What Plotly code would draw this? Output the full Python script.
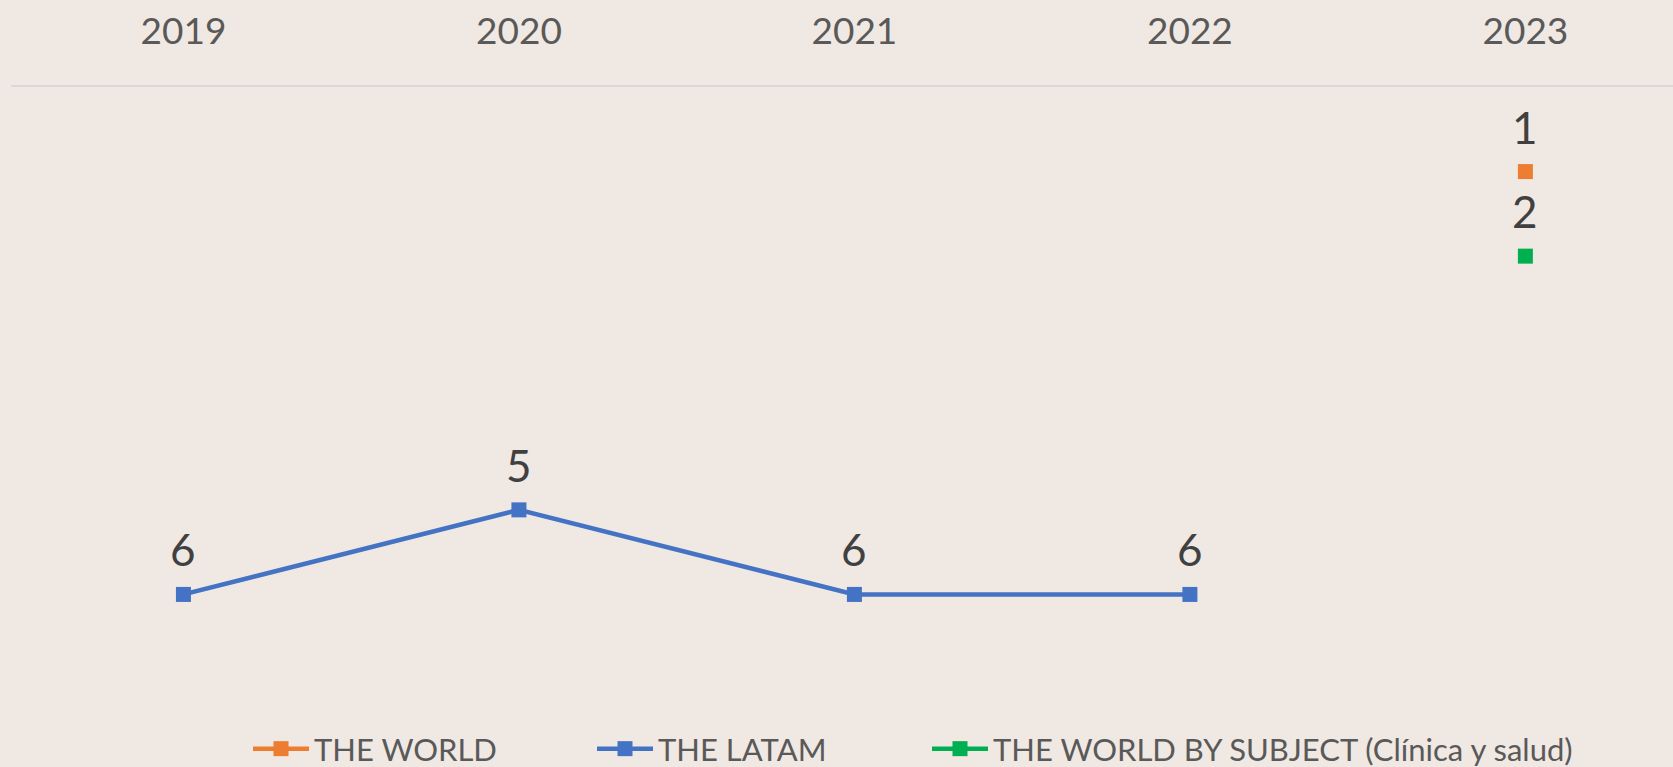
import plotly.graph_objects as go

years = ["2019", "2020", "2021", "2022", "2023"]
world = [None, None, None, None, 1]
latam = [6, 5, 6, 6, None]
world_subject = [None, None, None, None, 2]

series = [
    ("THE WORLD", world, "#ED7D31", "legend", 248),
    ("THE LATAM", latam, "#4472C4", "legend2", 592),
    ("THE WORLD BY SUBJECT (Clínica y salud)", world_subject, "#00B050", "legend3", 927),
]

FONT = "Lato, 'Open Sans', sans-serif"
BG = "#F0E8E2"
W, H = 1673, 767
ML, MR, MT, MB = 11, 0, 87, 88
PW = W - ML - MR

fig = go.Figure()
legends = {}
annotations = []
for name, vals, color, lg, px in series:
    fig.add_trace(go.Scatter(
        x=years, y=vals, name=name, mode="lines+markers",
        line=dict(color=color, width=4.5),
        marker=dict(symbol="square", size=15, color=color),
        cliponaxis=False, legend=lg,
    ))
    for i, yv in enumerate(vals):
        if yv is not None:
            annotations.append(dict(
                x=i, y=yv, text=str(yv), showarrow=False,
                xanchor="center", yanchor="middle", yshift=45,
                font=dict(family=FONT, size=44, color="#404040"),
            ))
    legends[lg] = dict(
        orientation="h", x=px / W, xref="container", xanchor="left",
        y=1 - 749 / H, yref="container", yanchor="middle",
        font=dict(family=FONT, size=31, color="#595959"),
        itemwidth=56, bgcolor="rgba(0,0,0,0)",
    )

fig.update_layout(
    width=W, height=H,
    paper_bgcolor=BG, plot_bgcolor=BG,
    margin=dict(l=ML, r=MR, t=MT, b=MB, autoexpand=False),
    font=dict(family=FONT, color="#595959"),
    showlegend=True,
    annotations=annotations,
    xaxis=dict(
        type="category", side="top", range=[-0.514, 4.44],
        showline=True, linecolor="#D9D9D9", linewidth=2,
        showgrid=False, zeroline=False, ticks="",
        tickfont=dict(family=FONT, size=37, color="#595959"),
        ticklabelstandoff=26,
    ),
    yaxis=dict(
        range=[7, 0], showticklabels=False, showgrid=False,
        zeroline=False, showline=False, ticks="",
    ),
    **legends,
)

fig.write_html(
    "out.html",
    config={"displayModeBar": False},
    post_script="document.body.style.margin='0';document.body.style.background='%s';" % BG,
)
